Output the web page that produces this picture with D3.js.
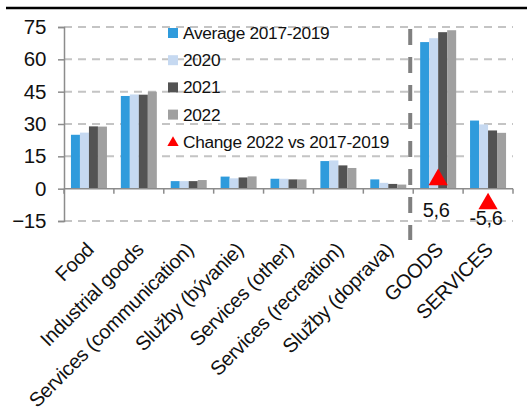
<!DOCTYPE html>
<html>
<head>
<meta charset="utf-8">
<script src="https://cdn.jsdelivr.net/npm/d3@7"></script>
<style>
  body { margin: 0; background: #fff; }
  svg text { font-family: "Liberation Sans", Arial, sans-serif; fill: #111; }
</style>
</head>
<body>
<svg id="chart" width="531" height="414"></svg>
<script>
// categories and series
const categories = ["Food", "Industrial goods", "Services (communication)", "Služby (bývanie)",
  "Services (other)", "Services (recreation)", "Služby (doprava)", "GOODS", "SERVICES"];
const seriesNames = ["Average 2017-2019", "2020", "2021", "2022"];
const avg1719 = [25.0, 43.0, 3.5, 5.6, 4.6, 12.8, 4.3, 68.0, 31.6];
const y2020   = [26.0, 43.7, 3.5, 4.8, 4.6, 13.1, 2.7, 69.8, 29.8];
const y2021   = [28.9, 43.6, 3.5, 5.2, 4.3, 10.8, 2.2, 72.6, 27.0];
const y2022   = [28.8, 45.0, 4.0, 5.7, 4.3, 9.6, 1.9, 73.5, 25.9];
const changeCats = ["GOODS", "SERVICES"];
const changeVals = [5.6, -5.6];
const changeLabels = ["5,6", "-5,6"];
const yTicks = [-15, 0, 15, 30, 45, 60, 75];

const colors = ["#2f9bdc", "#c6d9f1", "#535353", "#a0a0a0"];
const values = [avg1719, y2020, y2021, y2022];

const svg = d3.select("#chart");
const plotLeft = 64, plotRight = 513, plotTop = 27, plotBottom = 221;

const x = d3.scaleBand().domain(categories).range([plotLeft, plotRight]);
const bw = x.bandwidth();
const groupW = 36;
const x1 = d3.scaleBand().domain(seriesNames).range([(bw - groupW) / 2, (bw + groupW) / 2]);
const y = d3.scaleLinear().domain([-15, 75]).range([plotBottom, plotTop]);

// top rule
svg.append("line").attr("x1", 6).attr("x2", 527).attr("y1", 8).attr("y2", 8)
  .attr("stroke", "#000").attr("stroke-width", 2.5);

// gridlines
svg.append("g").selectAll("line")
  .data(yTicks.filter(d => d !== 0))
  .join("line")
  .attr("x1", plotLeft).attr("x2", plotRight)
  .attr("y1", d => y(d)).attr("y2", d => y(d))
  .attr("stroke", "#c4c4c4").attr("stroke-width", 2)
  .attr("stroke-dasharray", "8,6");

// y axis
const yAxis = svg.append("g")
  .attr("transform", `translate(${plotLeft},0)`)
  .call(d3.axisLeft(y).tickValues(yTicks).tickSize(6).tickPadding(12));
yAxis.select(".domain").attr("stroke", "#8c8c8c").attr("stroke-width", 1.5);
yAxis.selectAll(".tick line").attr("stroke", "#8c8c8c").attr("stroke-width", 1.5);
yAxis.selectAll(".tick text").attr("font-size", 20.5).attr("fill", "#111")
  .attr("font-family", "Liberation Sans, Arial, sans-serif").attr("letter-spacing", -0.3);

// bars
const groups = svg.append("g").selectAll("g")
  .data(categories)
  .join("g")
  .attr("transform", d => `translate(${x(d)},0)`);

groups.selectAll("rect")
  .data((c, i) => seriesNames.map((s, j) => ({ s, v: values[j][i], c: colors[j] })))
  .join("rect")
  .attr("x", d => x1(d.s))
  .attr("width", x1.bandwidth())
  .attr("y", d => y(Math.max(0, d.v)))
  .attr("height", d => Math.abs(y(d.v) - y(0)))
  .attr("fill", d => d.c);

// zero axis with category ticks
svg.append("line").attr("x1", plotLeft).attr("x2", plotRight)
  .attr("y1", y(0)).attr("y2", y(0))
  .attr("stroke", "#8c8c8c").attr("stroke-width", 1.5);
svg.append("g").selectAll("line")
  .data(categories.concat(["end"]))
  .join("line")
  .attr("x1", (d, i) => plotLeft + i * bw).attr("x2", (d, i) => plotLeft + i * bw)
  .attr("y1", y(0)).attr("y2", y(0) + 5)
  .attr("stroke", "#8c8c8c").attr("stroke-width", 1.5);

// separator between detail and totals
svg.append("line")
  .attr("x1", x("GOODS") - 3).attr("x2", x("GOODS") - 3)
  .attr("y1", 29).attr("y2", 240)
  .attr("stroke", "#808080").attr("stroke-width", 4)
  .attr("stroke-dasharray", "16,12");

// x labels
svg.append("g").selectAll("text")
  .data(categories)
  .join("text")
  .attr("transform", d => `translate(${x(d) + bw / 2 + 6},${251}) rotate(-45)`)
  .attr("text-anchor", "end")
  .attr("font-size", 20)
  .attr("letter-spacing", -0.3)
  .text(d => d);

// change markers
const tri = d3.symbol().type(d3.symbolTriangle).size(160);
svg.append("g").selectAll("path")
  .data(changeCats)
  .join("path")
  .attr("d", tri)
  .attr("transform", (d, i) => `translate(${x(d) + bw / 2},${y(changeVals[i]) + 3})`)
  .attr("fill", "#ff0000");
svg.append("g").selectAll("text")
  .data(changeCats)
  .join("text")
  .attr("x", d => x(d) + bw / 2 - 2)
  .attr("y", (d, i) => y(changeVals[i]) + (changeVals[i] > 0 ? 40 : 24))
  .attr("text-anchor", "middle")
  .attr("font-size", 20)
  .attr("letter-spacing", -0.3)
  .text((d, i) => changeLabels[i]);

// legend
const legendItems = seriesNames.concat(["Change 2022 vs 2017-2019"]);
const lg = svg.append("g").selectAll("g")
  .data(legendItems)
  .join("g")
  .attr("transform", (d, i) => `translate(168,${33 + i * 27.2})`);
lg.filter((d, i) => i < 4).append("rect")
  .attr("x", 0).attr("y", -5).attr("width", 10).attr("height", 10)
  .attr("fill", (d, i) => colors[i]);
lg.filter((d, i) => i === 4).append("path")
  .attr("d", d3.symbol().type(d3.symbolTriangle).size(55))
  .attr("transform", "translate(5,1)")
  .attr("fill", "#ff0000");
lg.append("text")
  .attr("x", 15).attr("dy", "0.35em")
  .attr("font-size", 17.3)
  .attr("letter-spacing", -0.3)
  .text(d => d);
</script>
</body>
</html>
